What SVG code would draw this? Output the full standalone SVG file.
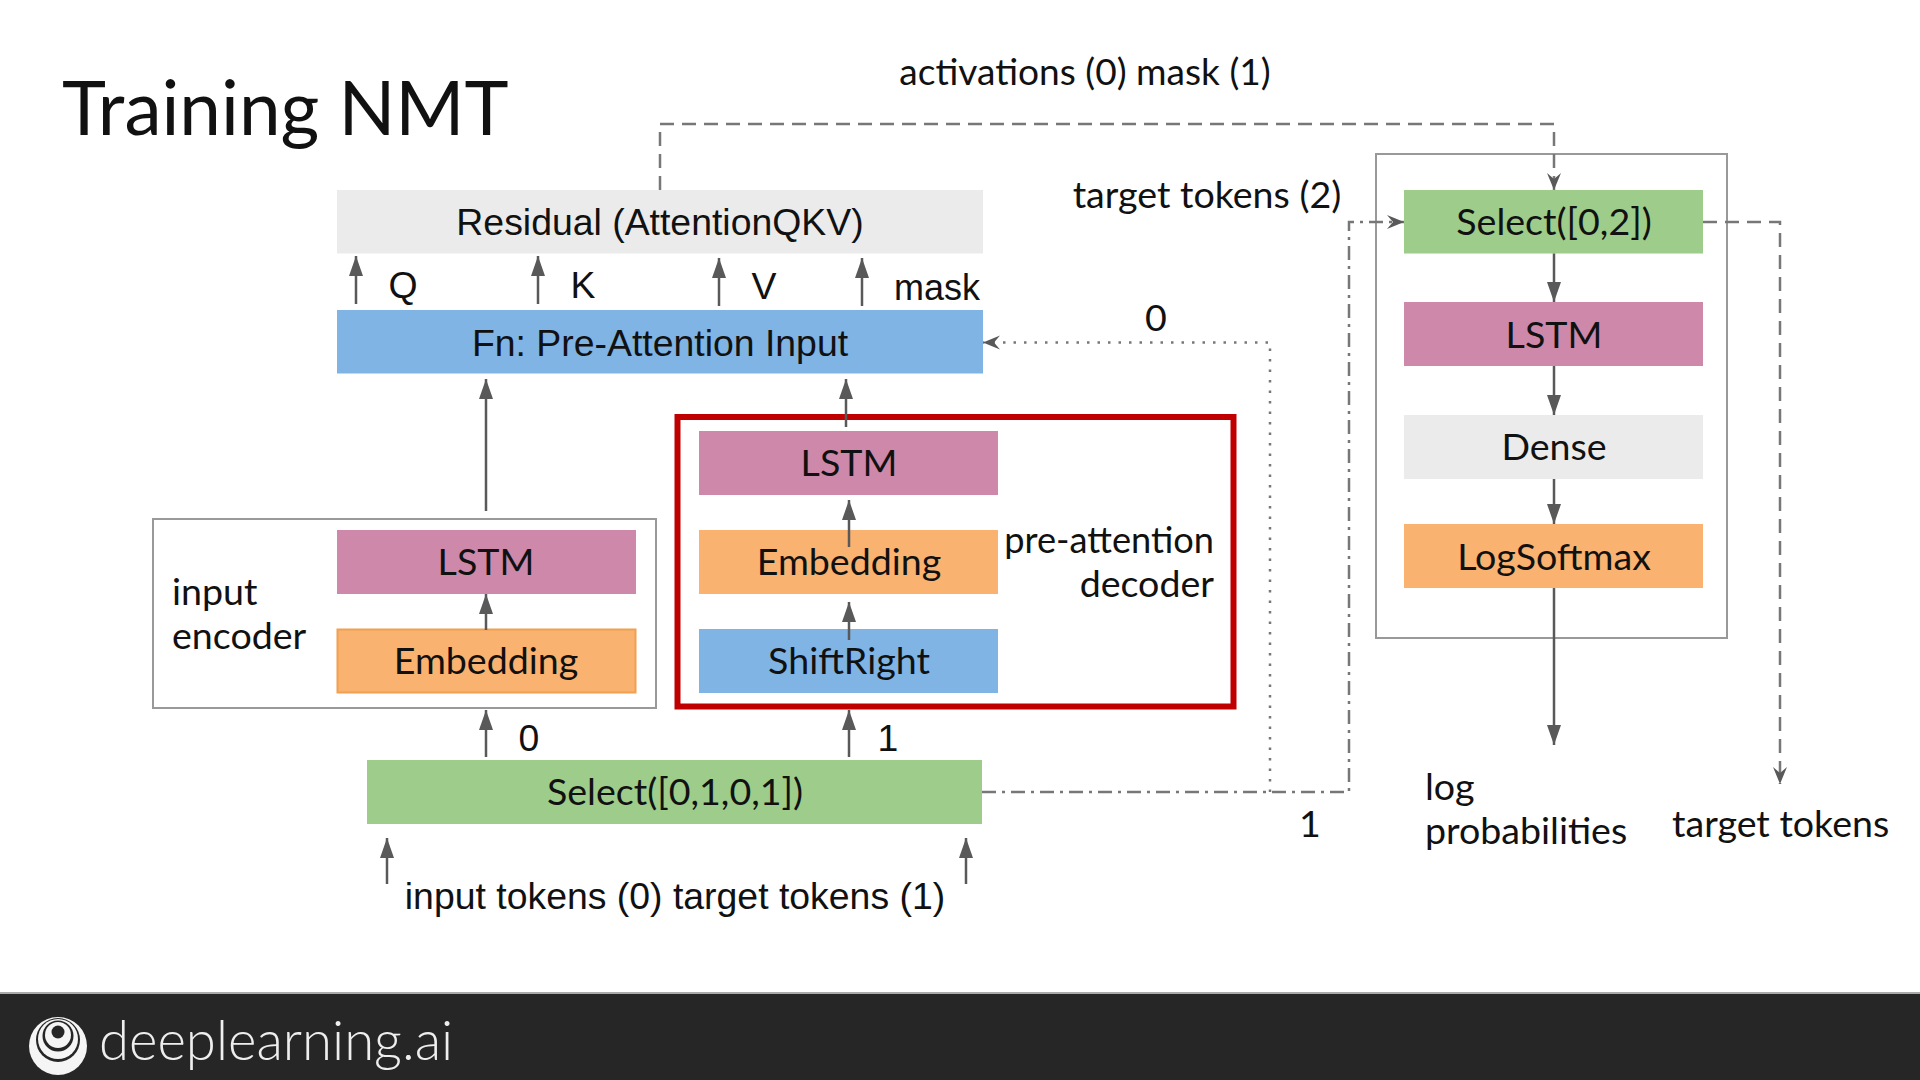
<svg xmlns="http://www.w3.org/2000/svg" width="1920" height="1080" viewBox="0 0 1920 1080">
<style>
.l{font-family:"Lato","Liberation Sans",sans-serif;font-size:37.6px;fill:#111}
.a{font-family:"Liberation Sans",Arial,sans-serif;font-size:37.4px;fill:#111}
.m{text-anchor:middle}
.e{text-anchor:end}
.c{fill:none;stroke:#595959;stroke-width:2.5}
.d1{stroke-dasharray:14 8;stroke:#777}
.d2{stroke-dasharray:14 6 3 6;stroke:#777}
.d3{stroke-dasharray:2.5 8;stroke:#777}
.pink{fill:#cd88aa}.orange{fill:#f9b26f}.green{fill:#9dcc8b}.blue{fill:#7fb4e4}.grey{fill:#ebebeb}
.box{fill:#fff;stroke:#999;stroke-width:2}
</style>
<defs>
<marker id="ah" markerUnits="userSpaceOnUse" markerWidth="20" markerHeight="16" refX="20" refY="7" orient="auto"><path d="M0 0L20 7L0 14Z" fill="#595959"/></marker>
<marker id="oh" markerUnits="userSpaceOnUse" markerWidth="18" markerHeight="16" refX="17" refY="7" orient="auto"><path d="M0 0L17 7L0 14L6 7Z" fill="#595959"/></marker>
</defs>
<rect width="1920" height="1080" fill="#fff"/>
<g id="footer">
<rect y="992" width="1920" height="2" fill="#aaa"/>
<rect y="994" width="1920" height="86" fill="#262626"/>
<circle cx="58" cy="1046" r="29" fill="#f5f5f5"/>
<circle cx="58" cy="1040" r="22" fill="#262626"/>
<circle cx="58" cy="1039" r="20" fill="#f5f5f5"/>
<circle cx="58" cy="1036" r="15.5" fill="#262626"/>
<circle cx="58" cy="1035" r="13" fill="#f5f5f5"/>
<circle cx="58" cy="1032" r="6.5" fill="#262626"/>
<text x="99" y="1060" font-family="Lato,sans-serif" font-size="54.5" font-weight="300" fill="#eee">deeplearning.ai</text>
</g>
<text id="title" x="62" y="135" font-family="Lato,sans-serif" font-size="74.6" fill="#111">Training NMT</text>
<g id="encoder-box"><rect class="box" x="153" y="519" width="503" height="189"/><text class="l" x="172" y="605">input</text><text class="l" x="172" y="649">encoder</text></g>
<g id="select-box"><rect class="box" x="1376" y="154" width="351" height="484"/></g>
<g id="decoder-box"><rect x="677.5" y="417" width="556" height="289.5" fill="none" stroke="#c00000" stroke-width="6"/><text class="l e" x="1214" y="553" style="font-size:36.2px">pre-attention</text><text class="l e" x="1214" y="597">decoder</text></g>
<g id="residual"><rect class="grey" x="337" y="190" width="646" height="63.5"/><text class="a m" x="660" y="235">Residual (AttentionQKV)</text></g>
<g id="pre-attention-input"><rect class="blue" x="337" y="310" width="646" height="63.5"/><text class="a m" x="660" y="356">Fn: Pre-Attention Input</text></g>
<g id="dec-lstm"><rect class="pink" x="699" y="431" width="299" height="64"/><text class="l m" x="849" y="476">LSTM</text></g>
<g id="dec-embedding"><rect class="orange" x="699" y="530" width="299" height="64"/><text class="l m" x="849" y="575">Embedding</text></g>
<g id="shiftright"><rect class="blue" x="699" y="629" width="299" height="64"/><text class="l m" x="849" y="674">ShiftRight</text></g>
<g id="enc-lstm"><rect class="pink" x="337" y="530" width="299" height="64"/><text class="l m" x="486" y="575">LSTM</text></g>
<g id="enc-embedding"><rect class="orange" x="337.5" y="629.5" width="298" height="63" stroke="#f0a050" stroke-width="2"/><text class="l m" x="486" y="674">Embedding</text></g>
<g id="select-0101"><rect class="green" x="367" y="760" width="615" height="64"/><text class="l m" x="675" y="805">Select([0,1,0,1])</text></g>
<g id="select-02"><rect class="green" x="1404" y="190" width="299" height="63.5"/><text class="l m" x="1554" y="235">Select([0,2])</text></g>
<g id="r-lstm"><rect class="pink" x="1404" y="302" width="299" height="64"/><text class="l m" x="1554" y="348">LSTM</text></g>
<g id="r-dense"><rect class="grey" x="1404" y="415" width="299" height="64"/><text class="l m" x="1554" y="460">Dense</text></g>
<g id="r-logsoftmax"><rect class="orange" x="1404" y="524" width="299" height="64"/><text class="l m" x="1554" y="570">LogSoftmax</text></g>
<g id="connectors">
<path class="c" marker-end="url(#ah)" d="M356 304V256"/>
<path class="c" marker-end="url(#ah)" d="M538 304V256"/>
<path class="c" marker-end="url(#ah)" d="M719 306V258"/>
<path class="c" marker-end="url(#ah)" d="M862 306V258"/>
<path class="c" marker-end="url(#ah)" d="M486 511V379"/>
<path class="c" marker-end="url(#ah)" d="M846 427V379"/>
<path class="c" marker-end="url(#ah)" d="M849 547V500"/>
<path class="c" marker-end="url(#ah)" d="M849 640V602"/>
<path class="c" marker-end="url(#ah)" d="M486 630V594"/>
<path class="c" marker-end="url(#ah)" d="M486 757V710"/>
<path class="c" marker-end="url(#ah)" d="M849 757V710"/>
<path class="c" marker-end="url(#ah)" d="M387 884V838"/>
<path class="c" marker-end="url(#ah)" d="M966 884V838"/>
<path class="c" marker-end="url(#ah)" d="M1554 253.5V302"/>
<path class="c" marker-end="url(#ah)" d="M1554 366V415"/>
<path class="c" marker-end="url(#ah)" d="M1554 479V524"/>
<path class="c" marker-end="url(#ah)" d="M1554 588V745"/>
<path class="c d1" marker-end="url(#oh)" d="M660 190V124H1554V190"/>
<path class="c d2" marker-end="url(#oh)" d="M982 792H1349V222H1404"/>
<path class="c d3" marker-end="url(#oh)" d="M1270 792V342.5H983"/>
<path class="c d1" marker-end="url(#oh)" d="M1703 222H1780V784"/>
</g>
<g id="labels">
<text class="l m" x="1085" y="85" style="font-size:37.1px">activations (0) mask (1)</text>
<text class="l m" x="1207" y="208">target tokens (2)</text>
<text class="l m" x="1156" y="331">0</text>
<text class="l m" x="1310" y="837">1</text>
<text class="l" x="1425" y="800">log</text>
<text class="l" x="1425" y="844">probabilities</text>
<text class="l" x="1672" y="837">target tokens</text>
<text class="a m" x="403" y="298">Q</text>
<text class="a m" x="583" y="298">K</text>
<text class="a m" x="764" y="299">V</text>
<text class="a e" x="980" y="300" style="font-size:36px">mask</text>
<text class="a m" x="675" y="909">input tokens (0) target tokens (1)</text>
<text class="a m" x="529" y="751">0</text>
<text class="a m" x="888" y="751">1</text>
</g>
</svg>
